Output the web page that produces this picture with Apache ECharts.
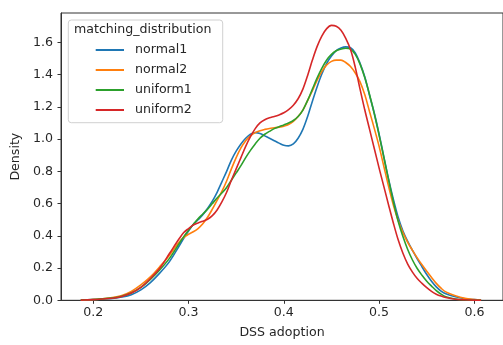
<!DOCTYPE html>
<html>
<head>
<meta charset="utf-8">
<script src="https://cdn.jsdelivr.net/npm/echarts@6/dist/echarts.min.js"></script>
<style>
  html, body { margin: 0; padding: 0; background: #fff; }
  #chart { width: 503px; height: 345px; }
</style>
</head>
<body>
<div id="chart"></div>
<script>
// Kernel density estimates of DSS adoption, one curve per matching distribution
const adoption = [0.187, 0.19, 0.20, 0.21, 0.22, 0.23, 0.24, 0.25, 0.26, 0.27, 0.28, 0.29, 0.295,
  0.300, 0.305, 0.310, 0.315, 0.320, 0.325, 0.330, 0.335, 0.340, 0.345,
  0.350, 0.355, 0.360, 0.365, 0.370, 0.375, 0.380, 0.385, 0.390, 0.395,
  0.400, 0.405, 0.410, 0.415, 0.420, 0.425, 0.430, 0.435, 0.440, 0.445,
  0.450, 0.455, 0.460, 0.465, 0.470, 0.475, 0.480, 0.485, 0.490, 0.495,
  0.500, 0.505, 0.510, 0.515, 0.520, 0.525, 0.530, 0.535, 0.540, 0.545,
  0.550, 0.555, 0.560, 0.565, 0.570,
  0.58, 0.59, 0.60, 0.607];

const normal1 = [0.001, 0.002, 0.004, 0.008, 0.012, 0.02, 0.035, 0.065, 0.11, 0.17, 0.24, 0.335, 0.385,
  0.43, 0.47, 0.50, 0.53, 0.57, 0.615, 0.67, 0.735, 0.80, 0.87,
  0.925, 0.97, 1.005, 1.03, 1.04, 1.035, 1.02, 1.005, 0.99, 0.975,
  0.962, 0.958, 0.97, 1.005, 1.06, 1.14, 1.235, 1.325, 1.405, 1.47,
  1.515, 1.548, 1.565, 1.572, 1.567, 1.535, 1.47, 1.385, 1.27, 1.16,
  1.03, 0.89, 0.75, 0.625, 0.515, 0.43, 0.365, 0.31, 0.257, 0.208,
  0.16, 0.118, 0.083, 0.057, 0.04,
  0.022, 0.01, 0.004, 0.001];

const normal2 = [0.001, 0.002, 0.005, 0.01, 0.017, 0.03, 0.055, 0.095, 0.145, 0.21, 0.28, 0.36, 0.39,
  0.41, 0.425, 0.445, 0.475, 0.515, 0.565, 0.62, 0.675, 0.74, 0.815,
  0.885, 0.945, 0.99, 1.02, 1.04, 1.052, 1.06, 1.066, 1.07, 1.074,
  1.08, 1.09, 1.11, 1.14, 1.18, 1.24, 1.30, 1.365, 1.42, 1.46,
  1.482, 1.49, 1.49, 1.475, 1.45, 1.41, 1.355, 1.275, 1.17, 1.065,
  0.955, 0.83, 0.705, 0.59, 0.495, 0.42, 0.36, 0.31, 0.263, 0.22,
  0.18, 0.142, 0.105, 0.075, 0.052,
  0.028, 0.012, 0.005, 0.002];

const uniform1 = [0.002, 0.003, 0.005, 0.009, 0.014, 0.025, 0.045, 0.08, 0.13, 0.19, 0.26, 0.35, 0.395,
  0.435, 0.47, 0.505, 0.535, 0.565, 0.60, 0.635, 0.665, 0.70, 0.745,
  0.79, 0.835, 0.885, 0.93, 0.97, 1.005, 1.03, 1.048, 1.065, 1.077,
  1.088, 1.10, 1.115, 1.14, 1.18, 1.24, 1.31, 1.38, 1.44, 1.49,
  1.525, 1.548, 1.558, 1.563, 1.558, 1.525, 1.465, 1.38, 1.275, 1.155,
  1.025, 0.885, 0.745, 0.61, 0.49, 0.395, 0.315, 0.25, 0.197, 0.155,
  0.118, 0.088, 0.06, 0.038, 0.022,
  0.008, 0.003, 0.001, 0.0005];

const uniform2 = [0.001, 0.002, 0.004, 0.008, 0.013, 0.024, 0.045, 0.08, 0.135, 0.2, 0.29, 0.38, 0.42,
  0.445, 0.467, 0.48, 0.49, 0.503, 0.525, 0.56, 0.61, 0.67, 0.745,
  0.815, 0.885, 0.955, 1.015, 1.065, 1.10, 1.12, 1.132, 1.14, 1.15,
  1.163, 1.183, 1.21, 1.25, 1.31, 1.395, 1.49, 1.575, 1.64, 1.685,
  1.705, 1.70, 1.675, 1.625, 1.555, 1.445, 1.31, 1.18, 1.06, 0.94,
  0.82, 0.705, 0.59, 0.478, 0.375, 0.292, 0.225, 0.175, 0.135, 0.105,
  0.078, 0.055, 0.038, 0.026, 0.017,
  0.007, 0.003, 0.001, 0.0005];

const seriesNames = ['normal1', 'normal2', 'uniform1', 'uniform2'];
const seriesValues = [normal1, normal2, uniform1, uniform2];
const seriesColors = ['#1f77b4', '#ff7f0e', '#2ca02c', '#d62728'];

const xTicks = [0.2, 0.3, 0.4, 0.5, 0.6];
const yTicks = [0.0, 0.2, 0.4, 0.6, 0.8, 1.0, 1.2, 1.4, 1.6];

const FONT = 'DejaVu Sans';
const TEXT = '#262626';
const SPINE = '#333333';
const FS = 12.6;

const chart = echarts.init(document.getElementById('chart'), null, { renderer: 'canvas' });

const series = seriesNames.map((name, i) => ({
  name: name,
  type: 'line',
  data: adoption.map((x, k) => [x, seriesValues[i][k]]),
  smooth: 0.35,
  showSymbol: false,
  symbol: 'none',
  lineStyle: { width: 1.6, color: seriesColors[i] },
  itemStyle: { color: seriesColors[i] },
  z: 2 + i,
  animation: false
}));

chart.setOption({
  animation: false,
  backgroundColor: '#ffffff',
  grid: {
    left: 61, top: 13, right: -1.5, bottom: 44.7,
    show: true, borderColor: SPINE, borderWidth: 1, backgroundColor: 'transparent'
  },
  xAxis: {
    type: 'value',
    min: 0.1662, max: 0.630,
    name: 'DSS adoption',
    nameLocation: 'middle',
    nameGap: 26,
    nameTextStyle: { fontFamily: FONT, fontSize: FS, color: TEXT },
    axisLine: { show: true, lineStyle: { color: SPINE, width: 1 } },
    axisTick: { show: true, inside: false, length: 3.5, customValues: xTicks, lineStyle: { color: SPINE, width: 1 } },
    axisLabel: {
      customValues: xTicks, margin: 6,
      formatter: v => v.toFixed(1),
      fontFamily: FONT, fontSize: FS, color: TEXT
    },
    splitLine: { show: false }
  },
  yAxis: {
    type: 'value',
    min: 0, max: 1.782,
    name: 'Density',
    nameLocation: 'middle',
    nameGap: 36,
    nameRotate: 90,
    nameTextStyle: { fontFamily: FONT, fontSize: FS, color: TEXT },
    axisLine: { show: true, lineStyle: { color: SPINE, width: 1 } },
    axisTick: { show: true, inside: false, length: 3.5, customValues: yTicks, lineStyle: { color: SPINE, width: 1 } },
    axisLabel: {
      customValues: yTicks, margin: 8,
      formatter: v => v.toFixed(1),
      fontFamily: FONT, fontSize: FS, color: TEXT
    },
    splitLine: { show: false }
  },
  legend: {
    data: seriesNames,
    orient: 'vertical',
    left: 95.7,
    top: 43,
    itemWidth: 28.3,
    itemHeight: 2,
    itemGap: 6,
    icon: 'rect',
    padding: 0,
    selectedMode: false,
    z: 10,
    textStyle: {
      fontFamily: FONT, fontSize: FS, color: TEXT,
      lineHeight: 14, padding: [0, 0, 0, 6]
    }
  },
  graphic: [
    {
      type: 'rect',
      z: 8,
      shape: { x: 68.3, y: 20, width: 154.4, height: 102.7, r: 3 },
      style: { fill: 'rgba(255,255,255,0.8)', stroke: '#d0d0d0', lineWidth: 1 }
    },
    {
      type: 'text',
      z: 9,
      x: 74, y: 30,
      style: {
        text: 'matching_distribution',
        fontFamily: FONT, fontSize: FS, fill: TEXT,
        textVerticalAlign: 'middle', textAlign: 'left'
      }
    }
  ],
  series: series
});
</script>
</body>
</html>
